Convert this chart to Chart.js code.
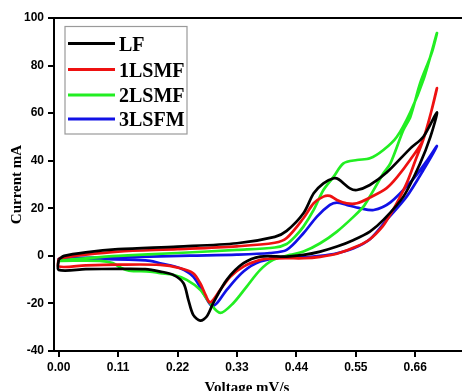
<!DOCTYPE html>
<html>
<head>
<meta charset="utf-8">
<script src="https://cdn.jsdelivr.net/npm/chart.js@4.4.1/dist/chart.umd.min.js"></script>
<style>
  html, body { margin: 0; padding: 0; background: #fff; overflow: hidden; }
  #wrap { width: 462px; height: 391px; overflow: hidden; }
  canvas { display: block; }
</style>
</head>
<body>
<div id="wrap"><canvas id="cv" width="462" height="400"></canvas></div>
<script>
// Values (voltage, current), loop order: forward scan then reverse
const seriesNames = ['LF', '1LSMF', '2LSMF', '3LSFM'];

const lfVoltage = [0.000, 0.010, 0.050, 0.110, 0.220, 0.330, 0.400, 0.422, 0.453, 0.472, 0.490, 0.509, 0.518, 0.539, 0.552, 0.576, 0.607, 0.651, 0.675, 0.700,
                   0.688, 0.669, 0.638, 0.601, 0.576, 0.546, 0.515, 0.484, 0.453, 0.422, 0.373, 0.342, 0.311, 0.286, 0.274, 0.262, 0.249, 0.240, 0.231, 0.212, 0.188, 0.160, 0.110, 0.050, 0.000, 0.000];
const lfCurrent = [-1.5, 0.0, 1.5, 2.8, 3.9, 5.3, 8.0, 10.5, 17.9, 26.3, 30.5, 32.6, 32.2, 28.4, 27.7, 29.8, 35.0, 45.2, 50.1, 60.3,
                   50.0, 38.9, 24.9, 15.1, 10.2, 6.7, 3.9, 1.8, 0.4, -0.3, -0.3, -3.1, -10.1, -19.9, -25.5, -27.2, -24.8, -18.5, -11.5, -8.0, -6.6, -5.6, -5.5, -5.6, -5.9, -1.5];

const lsmf1Voltage = [0.000, 0.046, 0.110, 0.220, 0.330, 0.400, 0.422, 0.453, 0.472, 0.490, 0.502, 0.515, 0.533, 0.552, 0.576, 0.607, 0.626, 0.651, 0.675, 0.700,
                      0.690, 0.675, 0.660, 0.645, 0.630, 0.614, 0.600, 0.576, 0.550, 0.515, 0.484, 0.453, 0.422, 0.390, 0.373, 0.342, 0.318, 0.299, 0.286, 0.279, 0.272, 0.262, 0.249, 0.225, 0.188, 0.110, 0.050, 0.000, 0.000];
const lsmf1Current = [-1.0, 0.4, 1.8, 2.8, 4.0, 5.5, 7.5, 15.8, 22.1, 24.9, 25.2, 23.5, 22.1, 22.1, 24.5, 28.5, 33.0, 40.5, 49.0, 70.4,
                      61.0, 49.0, 40.0, 31.0, 24.0, 17.5, 12.5, 7.0, 3.8, 0.9, -0.4, -1.0, -1.0, -1.2, -1.7, -4.5, -8.7, -14.3, -18.5, -19.5, -16.5, -11.5, -7.3, -5.2, -3.8, -3.7, -4.0, -4.5, -1.0];

const lsmf2Voltage = [0.000, 0.050, 0.110, 0.220, 0.330, 0.400, 0.422, 0.437, 0.453, 0.472, 0.490, 0.509, 0.527, 0.552, 0.576, 0.601, 0.626, 0.651, 0.675, 0.700,
                      0.690, 0.669, 0.651, 0.638, 0.614, 0.601, 0.576, 0.564, 0.546, 0.515, 0.484, 0.453, 0.428, 0.397, 0.373, 0.348, 0.323, 0.299, 0.280, 0.262, 0.237, 0.212, 0.188, 0.169, 0.130, 0.115, 0.100, 0.076, 0.000, 0.000];
const lsmf2Current = [-2.0, -1.0, 0.0, 1.2, 2.5, 3.5, 5.0, 8.0, 12.3, 19.3, 27.7, 33.3, 38.9, 40.3, 41.0, 44.5, 50.1, 60.5, 74.0, 93.6,
                      85.0, 72.6, 58.5, 52.9, 38.9, 34.7, 25.0, 20.7, 16.5, 10.2, 5.3, 1.8, 0.4, -1.7, -5.9, -12.9, -19.9, -24.0, -19.9, -14.3, -10.1, -8.0, -7.3, -6.6, -6.2, -5.0, -3.0, -2.1, -2.1, -2.0];

const lsfm3Voltage = [0.000, 0.076, 0.169, 0.243, 0.330, 0.391, 0.422, 0.453, 0.478, 0.502, 0.515, 0.533, 0.558, 0.583, 0.614, 0.655, 0.680, 0.700,
                      0.675, 0.644, 0.607, 0.576, 0.546, 0.515, 0.484, 0.453, 0.422, 0.373, 0.342, 0.311, 0.293, 0.283, 0.268, 0.249, 0.225, 0.188, 0.169, 0.076, 0.000, 0.000];
const lsfm3Current = [-1.0, -0.7, -0.3, 0.1, 0.5, 1.2, 2.5, 9.5, 16.5, 21.4, 22.4, 21.4, 20.0, 19.3, 22.5, 32.0, 39.5, 46.2,
                      36.1, 24.9, 15.1, 7.0, 3.2, 1.1, 0.0, -0.6, -0.3, -2.4, -6.6, -14.3, -19.9, -21.0, -15.7, -8.7, -5.2, -3.1, -2.1, -1.3, -1.3, -1.0];

const xTickValues = [0.00, 0.11, 0.22, 0.33, 0.44, 0.55, 0.66];
const xTitle = 'Voltage mV/s';
const yTitle = 'Current mA';

const seriesColors = ['#000000', '#ee1111', '#22ee22', '#1111e6'];
const allVoltage = [lfVoltage, lsmf1Voltage, lsmf2Voltage, lsfm3Voltage];
const allCurrent = [lfCurrent, lsmf1Current, lsmf2Current, lsfm3Current];

function toPoints(vs, cs) {
    return vs.map((v, i) => ({ x: v, y: cs[i] }));
}

// Khung trên, chú giải và tiêu đề trục x
const framePlugin = {
    id: 'frame',
    afterDraw(chart) {
        const { ctx, chartArea } = chart;
        ctx.save();
        ctx.strokeStyle = '#000';
        ctx.lineWidth = 2;
        ctx.beginPath();
        ctx.moveTo(chartArea.left, chartArea.top);
        ctx.lineTo(chartArea.right, chartArea.top);
        ctx.stroke();

        // legend box
        ctx.fillStyle = '#fff';
        ctx.fillRect(65, 26.5, 122, 107.5);
        ctx.strokeStyle = '#9a9a9a';
        ctx.lineWidth = 1.2;
        ctx.strokeRect(65, 26.5, 122, 107.5);
        const rows = [43.5, 69.5, 95, 119];
        ctx.font = 'bold 20px "Liberation Serif"';
        ctx.textBaseline = 'middle';
        ctx.textAlign = 'left';
        chart.data.datasets.forEach((ds, i) => {
            ctx.strokeStyle = ds.borderColor;
            ctx.lineWidth = 3;
            ctx.beginPath();
            ctx.moveTo(68, rows[i]);
            ctx.lineTo(115, rows[i]);
            ctx.stroke();
            ctx.fillStyle = '#000';
            ctx.fillText(ds.label, 119, rows[i] + 2);
        });

        // x title (partly cut by the picture's lower edge)
        ctx.font = 'bold 15px "Liberation Serif"';
        ctx.textAlign = 'center';
        ctx.textBaseline = 'alphabetic';
        ctx.fillStyle = '#000';
        ctx.fillText(xTitle, 247, 392);
        ctx.restore();
    }
};

const tickFont = { family: 'Liberation Sans', size: 12, weight: 'bold' };

new Chart(document.getElementById('cv').getContext('2d'), {
    type: 'scatter',
    data: {
        datasets: seriesNames.map((name, i) => ({
            label: name,
            data: toPoints(allVoltage[i], allCurrent[i]),
            showLine: true,
            borderColor: seriesColors[i],
            backgroundColor: seriesColors[i],
            borderWidth: 2.7,
            pointRadius: 0,
            tension: 0.3,
            fill: false
        }))
    },
    options: {
        responsive: false,
        animation: false,
        layout: { padding: { top: 18, right: 0, left: 0, bottom: 0 } },
        plugins: {
            legend: { display: false },
            tooltip: { enabled: false }
        },
        scales: {
            x: {
                type: 'linear',
                min: -0.0087,
                max: 0.7465,
                afterBuildTicks: s => { s.ticks = xTickValues.map(v => ({ value: v })); },
                afterFit: s => { s.height = 49; },
                ticks: {
                    callback: v => Number(v).toFixed(2),
                    font: tickFont, color: '#000', padding: 3,
                    maxRotation: 0, autoSkip: false
                },
                grid: { drawOnChartArea: false, drawTicks: true, tickLength: 6, color: '#000', lineWidth: 2 },
                border: { display: true, color: '#000', width: 2 }
            },
            y: {
                min: -40,
                max: 100,
                afterFit: s => { s.width = 54; },
                ticks: {
                    stepSize: 20,
                    callback: v => String(v),
                    font: tickFont, color: '#000', padding: 4
                },
                title: {
                    display: true,
                    text: yTitle,
                    color: '#000',
                    font: { family: 'Liberation Serif', size: 15, weight: 'bold' },
                    padding: { top: 8, bottom: 0 }
                },
                grid: { drawOnChartArea: false, drawTicks: true, tickLength: 6, color: '#000', lineWidth: 2 },
                border: { display: true, color: '#000', width: 2 }
            }
        }
    },
    plugins: [framePlugin]
});
</script>
</body>
</html>
